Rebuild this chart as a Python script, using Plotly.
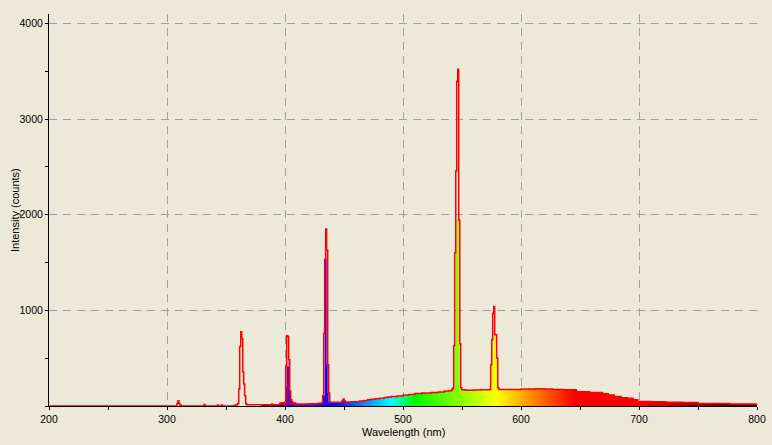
import plotly.graph_objects as go

# ---------------- data ----------------
wavelength_nm = [
    200.0, 308.4, 309.3, 310.1, 311.0, 312.0,
    331.4, 332.3, 342.7, 343.5, 346.1, 347.0,
    357.0, 358.5, 359.9, 360.8, 361.6, 362.5, 363.3, 364.2, 365.0, 365.8, 366.7, 367.5,
    380.0, 388.7, 389.5, 395.5, 397.0, 398.5, 399.7,
    400.6, 401.4, 402.3, 403.1, 404.0, 404.8, 405.7, 406.5, 409.0,
    420.0, 428.0, 431.1, 431.9, 432.8, 433.6, 434.5, 435.3, 436.2, 437.0, 437.9,
    442.0, 448.4, 449.2, 450.1, 451.0, 456.0, 463.0, 467.0, 470.0, 473.0, 476.0,
    480.0, 484.0, 487.0, 490.0, 495.0, 500.0, 505.0, 510.0, 516.0, 524.0, 530.0,
    535.0, 539.0, 541.3,
    542.2, 543.0, 543.8, 544.7, 545.5, 546.4, 547.2, 548.1, 548.9, 549.8,
    553.0, 560.0, 566.0, 573.5, 574.3, 575.2, 576.0, 576.9, 577.7, 578.6, 579.4,
    580.3, 581.2,
    590.0, 600.0, 612.0, 620.0, 627.0, 636.0, 647.0, 652.0, 658.0, 664.0, 669.0,
    674.0, 679.0, 685.0, 690.0, 695.0, 699.0, 710.0, 723.0, 737.0, 750.0, 763.0,
    777.0, 790.0, 800.0,
]

outline_counts = [
    0, 25, 55, 25, 8, 0,
    15, 0, 10, 0, 10, 0,
    8, 12, 25, 178, 622, 776, 703, 355, 230, 108, 24, 12,
    12, 20, 12, 28, 35, 22, 40,
    414, 734, 727, 484, 160, 66, 48, 31, 22,
    24, 30, 35, 108, 762, 1535, 1852, 1632, 431, 136, 38,
    38, 55, 73, 55, 42, 44, 52, 58, 66, 70, 76,
    80, 90, 95, 100, 104, 115, 120, 132, 135, 142, 146,
    157, 160, 174,
    188, 633, 1604, 2457, 3397, 3523, 1946, 651, 190, 170,
    165, 167, 170, 172, 431, 692, 971, 1040, 745, 745, 501,
    190, 172,
    172, 178, 180, 177, 172, 170, 150, 148, 142, 140, 128,
    115, 100, 87, 80, 66, 48, 45, 38, 36, 27, 25,
    21, 20, 20,
]

# colour-filled (visible range) series; None = not drawn
fill_counts = [
    None, None, None, None, None, None,
    None, None, None, None, None, None,
    None, None, None, None, None, None, None, None, None, None, None, None,
    12, 20, 12, 28, 35, 22, 40,
    200, 414, 414, 484, 160, 66, 48, 31, 22,
    24, 30, 35, 108, 108, 1535, 1535, 431, 136, 38, 38,
    38, 55, 73, 55, 42, 44, 52, 58, 66, 70, 76,
    80, 90, 95, 100, 104, 115, 120, 132, 135, 142, 146,
    157, 160, 174,
    188, 190, 633, 1604, 1950, 1950, 651, 190, 170, 170,
    165, 167, 170, 172, 200, 431, 595, 734, 734, 692, 501,
    190, 172,
    172, 178, 180, 177, 172, 170, 150, 148, 142, 140, 128,
    115, 100, 87, 80, 66, 48, 45, 38, 36, 27, 25,
    21, 20, 20,
]

x_ticks = [200, 300, 400, 500, 600, 700, 800]
y_ticks = [1000, 2000, 3000, 4000]
x_title = "Wavelength (nm)"
y_title = "Intensity (counts)"


# ---------------- styling helpers ----------------
def spectral_rgb(w):
    if w < 440:
        r, g, b = -(w - 440) / 60.0, 0.0, 1.0
    elif w < 490:
        r, g, b = 0.0, (w - 440) / 50.0, 1.0
    elif w < 510:
        r, g, b = 0.0, 1.0, -(w - 510) / 20.0
    elif w < 580:
        r, g, b = (w - 510) / 70.0, 1.0, 0.0
    elif w < 645:
        r, g, b = 1.0, -(w - 645) / 65.0, 0.0
    else:
        r, g, b = 1.0, 0.0, 0.0
    if w < 420:
        f = 0.3 + 0.7 * (w - 380) / 40.0
    elif w > 700:
        f = max(0.3, 0.3 + 0.7 * (780 - w) / 80.0)
    else:
        f = 1.0
    return "rgb(%d,%d,%d)" % (round(255 * r * f), round(255 * g * f), round(255 * b * f))


G_START, G_STOP = 380.0, 800.0
colorscale = []
n = 84
for i in range(n + 1):
    w = G_START + (G_STOP - G_START) * i / n
    colorscale.append([i / n, spectral_rgb(w)])

fx = [w for w, v in zip(wavelength_nm, fill_counts) if v is not None]
fy = [v for v in fill_counts if v is not None]

BG = "#ECE9D8"
FONT = "'Liberation Sans', Arial, sans-serif"

fig = go.Figure()
fig.add_trace(go.Scatter(
    x=fx, y=fy, mode="lines", line=dict(width=0, shape="hv"),
    fill="tozeroy",
    fillgradient=dict(type="horizontal", colorscale=colorscale, start=G_START, stop=G_STOP),
    hoverinfo="skip", showlegend=False,
))
fig.add_trace(go.Scatter(
    x=wavelength_nm, y=outline_counts, mode="lines",
    line=dict(color="#FF0000", width=1.5, shape="hv"),
    showlegend=False,
))

grid = dict(showgrid=True, gridcolor="#A0A0A0", gridwidth=1, griddash="8px,6px")

fig.update_layout(
    width=772, height=445,
    margin=dict(l=49, r=15, t=14, b=39),
    paper_bgcolor=BG, plot_bgcolor=BG,
    font=dict(family=FONT, size=11, color="black"),
    xaxis=dict(
        range=[200, 800], tickvals=x_ticks, ticks="outside", ticklen=3,
        tickcolor="black", tickwidth=1, tickfont=dict(size=10.5),
        minor=dict(dtick=50, tick0=0, ticks="outside", ticklen=3, tickcolor="black", showgrid=False),
        showline=True, linecolor="black", linewidth=1, zeroline=False,
        automargin=False, **grid,
    ),
    yaxis=dict(
        range=[0, 4100], tickvals=y_ticks, ticks="outside", ticklen=3,
        tickcolor="black", tickwidth=1, tickfont=dict(size=10.5),
        minor=dict(dtick=500, tick0=0, ticks="outside", ticklen=3, tickcolor="black", showgrid=False),
        showline=True, linecolor="black", linewidth=1, zeroline=False,
        automargin=False, **grid,
    ),
    xaxis2=dict(
        overlaying="x", matches="x", anchor="y", side="bottom",
        ticks="inside", ticklen=3, tickcolor="black", dtick=50, tick0=0,
        showticklabels=False, showgrid=False, showline=False, zeroline=False,
    ),
    yaxis2=dict(
        overlaying="y", matches="y", anchor="x", side="left",
        ticks="inside", ticklen=3, tickcolor="black", dtick=500, tick0=0,
        showticklabels=False, showgrid=False, showline=False, zeroline=False,
    ),
    annotations=[
        dict(text=x_title, xref="paper", yref="paper", x=0.5, y=0,
             xanchor="center", yanchor="middle", yshift=-26, showarrow=False,
             font=dict(size=11)),
        dict(text=y_title, xref="paper", yref="paper", x=0, y=0.5,
             xanchor="center", yanchor="middle", xshift=-34, textangle=-90,
             showarrow=False, font=dict(size=11)),
    ],
)

fig.write_html(
    "out.html",
    config={"displayModeBar": False},
    post_script="document.body.style.margin='0';document.body.style.overflow='hidden';",
)
